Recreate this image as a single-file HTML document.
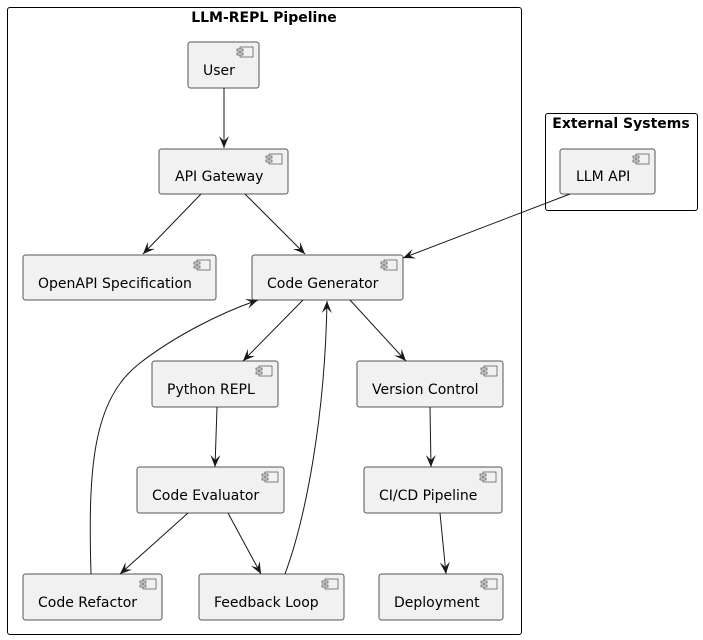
<!DOCTYPE html>
<html><head><meta charset="utf-8"><style>
html,body{margin:0;padding:0;background:#fff;}
svg{display:block;font-family:"DejaVu Sans","Liberation Sans",sans-serif;}
.b{fill:#f1f1f1;stroke:#555;stroke-width:1;}
.t{font-size:14px;fill:#000;}
.ic{fill:#f1f1f1;stroke:#333;stroke-width:0.6;}
.e{stroke:#181818;stroke-width:1;fill:none;marker-end:url(#a);}
</style></head><body>
<svg width="703" height="640" viewBox="0 0 703 640" xmlns="http://www.w3.org/2000/svg">
<defs>
<marker id="a" viewBox="0 0 12 10" refX="12" refY="5" markerWidth="12" markerHeight="10" markerUnits="userSpaceOnUse" orient="auto">
<path d="M0,0 L12,5 L0,10 L5,5 Z" fill="#181818"/>
</marker>
<g id="icon">
<rect class="ic" x="3" y="0" width="13" height="10"/>
<rect class="ic" x="0" y="2" width="6" height="2"/>
<rect class="ic" x="0" y="6" width="6" height="2"/>
</g>
</defs>
<rect x="7.5" y="7.5" width="514" height="627" rx="2.5" fill="none" stroke="#000" stroke-width="1"/>
<text x="264" y="22" text-anchor="middle" font-size="14" font-weight="bold">LLM-REPL Pipeline</text>
<rect x="545.5" y="113.5" width="152" height="97" rx="2.5" fill="none" stroke="#000" stroke-width="1"/>
<text x="621" y="128" text-anchor="middle" font-size="14" font-weight="bold">External Systems</text>

<g>
<rect class="b" x="188" y="42" width="71" height="46" rx="2.5"/><use href="#icon" x="237" y="47"/><text class="t" x="203" y="75">User</text>
<rect class="b" x="159" y="149" width="129" height="45" rx="2.5"/><use href="#icon" x="266" y="154"/><text class="t" x="175" y="181">API Gateway</text>
<rect class="b" x="23" y="255" width="193" height="45" rx="2.5"/><use href="#icon" x="194" y="260"/><text class="t" x="38" y="288">OpenAPI Specification</text>
<rect class="b" x="252" y="255" width="151" height="45" rx="2.5"/><use href="#icon" x="381" y="260"/><text class="t" x="267" y="288">Code Generator</text>
<rect class="b" x="152" y="361" width="126" height="46" rx="2.5"/><use href="#icon" x="256" y="366"/><text class="t" x="167" y="394">Python REPL</text>
<rect class="b" x="357" y="361" width="146" height="46" rx="2.5"/><use href="#icon" x="481" y="366"/><text class="t" x="372" y="394">Version Control</text>
<rect class="b" x="137" y="467" width="147" height="46" rx="2.5"/><use href="#icon" x="262" y="472"/><text class="t" x="152" y="500">Code Evaluator</text>
<rect class="b" x="364" y="467" width="138" height="46" rx="2.5"/><use href="#icon" x="480" y="472"/><text class="t" x="379" y="500">CI/CD Pipeline</text>
<rect class="b" x="23" y="574" width="139" height="46" rx="2.5"/><use href="#icon" x="140" y="579"/><text class="t" x="38" y="607">Code Refactor</text>
<rect class="b" x="199" y="574" width="145" height="46" rx="2.5"/><use href="#icon" x="322" y="579"/><text class="t" x="214" y="607">Feedback Loop</text>
<rect class="b" x="379" y="574" width="124" height="46" rx="2.5"/><use href="#icon" x="481" y="579"/><text class="t" x="394" y="607">Deployment</text>
<rect class="b" x="560" y="149" width="95" height="45" rx="2.5"/><use href="#icon" x="633" y="154"/><text class="t" x="576" y="181">LLM API</text>
</g>

<path class="e" d="M224,88 L224,148"/>
<path class="e" d="M201,194 L143,254"/>
<path class="e" d="M245,194 L305,254"/>
<path class="e" d="M570,194 L403,258"/>
<path class="e" d="M303,300 L243,361"/>
<path class="e" d="M350,300 L406,361"/>
<path class="e" d="M217,407 L215,467"/>
<path class="e" d="M188,513 L120,574"/>
<path class="e" d="M228,513 L261,574"/>
<path class="e" d="M430,407 L431,467"/>
<path class="e" d="M440,513 L446,574"/>
<path class="e" d="M91,574 C88,470 92,400 140,363 C175,336 220,313 258,300"/>
<path class="e" d="M285,574 C305,520 325,420 327,301"/>
</svg>
</body></html>
